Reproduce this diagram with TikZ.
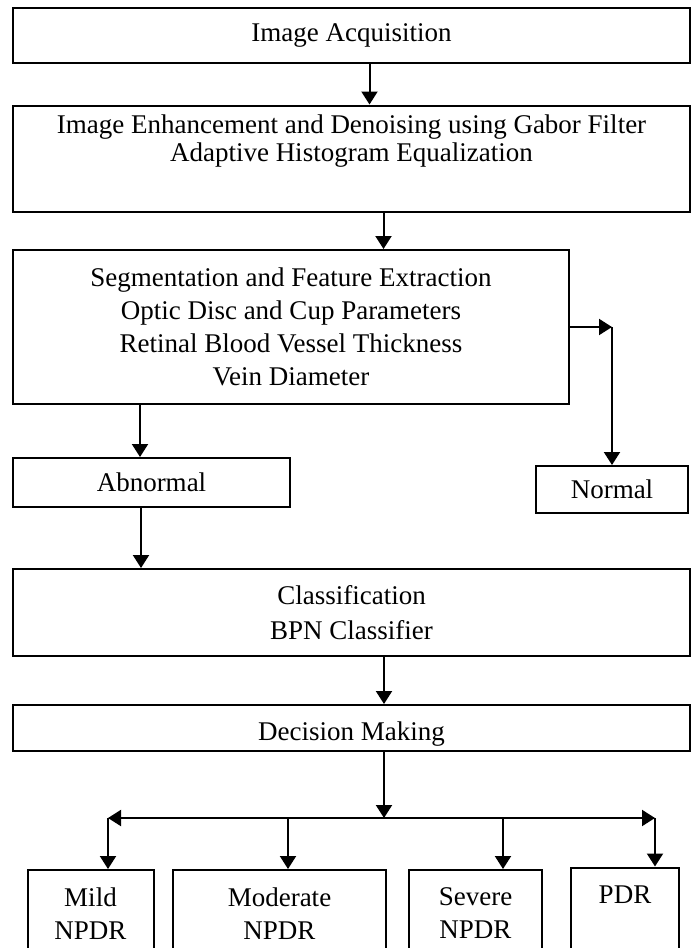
\documentclass[tikz,border=0pt]{standalone}
\usepackage{fontspec}
\setmainfont{Liberation Serif}
\usetikzlibrary{arrows.meta}

\tikzset{
	box/.style={draw, line width=1pt, align=center, inner sep=0pt,
		font=\fontsize{13.5}{16.5}\selectfont},
}

\begin{document}
\begin{tikzpicture}[x=0.5pt,y=-0.5pt]
		\clip (0,0) rectangle (692,948);
		
		\node[box, minimum width=338.5pt, minimum height=27.5pt] (acq) at (351.5,35.5) {Image Acquisition};
		\node[box, minimum width=338.5pt, minimum height=53pt, font=\fontsize{13.5}{14}\selectfont] (enh) at (351.5,158.5)
			{Image Enhancement and Denoising using Gabor Filter\\Adaptive Histogram Equalization\\[6.5pt]\mbox{}};
		\node[box, minimum width=278pt, minimum height=77pt] (seg) at (291,327)
			{Segmentation and Feature Extraction\\Optic Disc and Cup Parameters\\Retinal Blood Vessel Thickness\\Vein Diameter};
		
		\node[box, minimum width=138.5pt, minimum height=24.5pt] (abn) at (151.5,482.5) {Abnormal};
		\node[box, minimum width=76pt, minimum height=23.5pt] (nor) at (612,489.5) {Normal};
		
		\node[box, minimum width=338.5pt, minimum height=43.5pt, font=\fontsize{13.5}{17.5}\selectfont] (cls) at (351.5,612.5)
			{Classification\\BPN Classifier};
		\node[box, minimum width=338.5pt, minimum height=23pt, text height=15pt, text depth=3pt] (dec) at (351.5,728) {Decision Making};
		
		\node[box, minimum width=63pt, minimum height=43.5pt] (mild) at (90.5,913.5) {Mild\\NPDR};
		\node[box, minimum width=106.5pt, minimum height=43.5pt] (mod) at (279.5,913.5) {Moderate\\NPDR};
		\node[box, minimum width=66.5pt, minimum height=43.5pt] (sev) at (475.5,913.5) {Severe\\NPDR};
		\node[box, minimum width=54pt, minimum height=43.5pt] (pdr) at (625,911) {PDR\\\mbox{}};
		
		\coordinate (split) at (384,818);
		\coordinate (bl) at (108,818);
		\coordinate (bm) at (288,818);
		\coordinate (bs) at (503,818);
		\coordinate (br) at (655,818);
		%
		\path[->, line width=1pt, >={Triangle[length=6.5pt,width=8pt]}]
		([shift={(18,0)}]acq.south) edge ([shift={(18,0)}]enh.north)
		([shift={(32,0)}]enh.south) edge ([shift={(92.5,0)}]seg.north)
		(seg.east) edge (seg.east -| nor.north)
		(seg.east -| nor.north) edge (nor.north)
		([shift={(-151,0)}]seg.south) edge ([shift={(-11.5,0)}]abn.north)
		([shift={(-10.5,0)}]abn.south) edge ([shift={(-210.5,0)}]cls.north)
		([shift={(32.5,0)}]cls.south) edge ([shift={(32.5,0)}]dec.north)
		
		([shift={(32.5,0)}]dec.south) edge (split)
		(split) edge (bl)
		(split) edge (br)
		
		(bl) edge (bl |- mild.north)
		(bm) edge (bm |- mod.north)
		(bs) edge (bs |- sev.north)
		(br) edge (br |- pdr.north);
		
	\end{tikzpicture}
\end{document}
